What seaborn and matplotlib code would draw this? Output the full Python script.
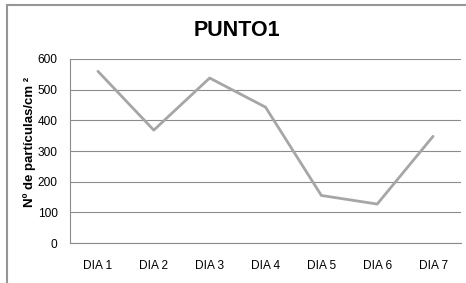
import seaborn as sns
import matplotlib.pyplot as plt
import pandas as pd
from matplotlib.patches import Rectangle

# values
dias = ["DIA 1", "DIA 2", "DIA 3", "DIA 4", "DIA 5", "DIA 6", "DIA 7"]
particulas = [560, 368, 538, 443, 155, 127, 348]
y_ticks = [0, 100, 200, 300, 400, 500, 600]

df = pd.DataFrame({"dia": dias, "particulas": particulas})

sns.set_style("white")
plt.rcParams['font.family'] = ['Liberation Sans', 'DejaVu Sans']
plt.rcParams['text.color'] = 'black'

fig = plt.figure(figsize=(4.66, 2.83), dpi=100)
ax = fig.add_axes([70 / 466, 1 - 243 / 283, 391 / 466, 184 / 283])

sns.lineplot(data=df, x="dia", y="particulas", ax=ax,
             color="#A6A6A6", linewidth=2.0, sort=False)

ax.set_xlim(-0.5, len(dias) - 0.5)
ax.set_ylim(0, 600)
ax.set_yticks(y_ticks)
ax.yaxis.grid(True, color="#8C8C8C", linewidth=0.8)
ax.xaxis.grid(False)
ax.set_axisbelow(True)
for side in ["top", "right"]:
    ax.spines[side].set_visible(False)
for side in ["left", "bottom"]:
    ax.spines[side].set_color("#8C8C8C")
    ax.spines[side].set_linewidth(0.8)
ax.tick_params(axis="both", length=0, labelsize=8.6, colors="black")
ax.tick_params(axis="x", pad=12)
ax.tick_params(axis="y", pad=9)
ax.set_xlabel("")
ax.set_ylabel("")

fig.text(237 / 466, 1 - 30 / 283, "PUNTO1", ha="center", va="center",
         fontsize=15.5, fontweight="bold")
fig.text(30 / 466, 1 - 142 / 283, "Nº de partículas/cm ²", rotation=90,
         ha="center", va="center", fontsize=9.5, fontweight="bold")

# outer chart frame (cropped on right and bottom)
fig.patches.append(Rectangle((7 / 466, -0.1), 1.2, 1 - 5 / 283 + 0.1,
                             transform=fig.transFigure, fill=False,
                             edgecolor="#969696", linewidth=1.5))

fig.savefig("out.png", dpi=100)
